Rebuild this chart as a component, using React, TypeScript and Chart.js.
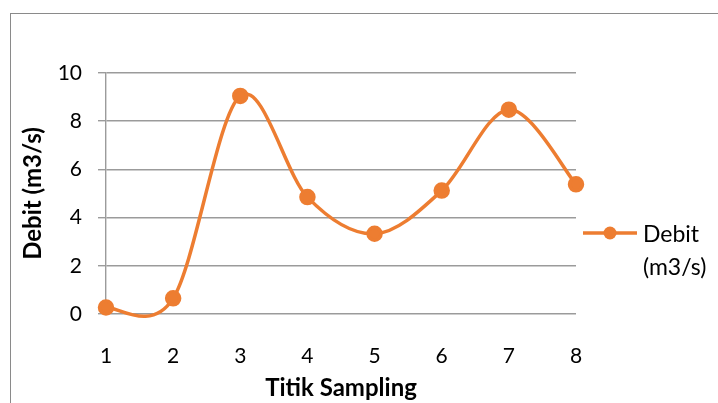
import React, { useEffect, useRef } from "react";
import { Chart, registerables } from "chart.js";

Chart.register(...registerables);

const categories = ["1", "2", "3", "4", "5", "6", "7", "8"];
const debitValues = [0.27, 0.65, 9.05, 4.85, 3.33, 5.12, 8.48, 5.38];
const seriesLabel = ["Debit", "(m3/s)"];
const yTicks = [0, 2, 4, 6, 8, 10];
const xTitle = "Titik Sampling";
const yTitle = "Debit (m3/s)";

const FONT = "Lato, 'Open Sans', sans-serif";
const ORANGE = "#ED7D31";
const GRID = "#9b9b9b";
const SMOOTH = 1 / 6;

const framePlugin = {
  id: "frame",
  beforeDraw(chart: any) {
    const ctx = chart.ctx;
    ctx.save();
    ctx.fillStyle = "#ffffff";
    ctx.fillRect(0, 0, chart.width, chart.height);
    ctx.strokeStyle = "#8a8a8a";
    ctx.lineWidth = 1;
    ctx.strokeRect(10.5, 13.5, chart.width + 50, chart.height + 50);
    ctx.restore();
  },
};

// Excel-like smoothing: uniform Catmull-Rom control points from the
// pixel positions that the chart's scales computed.
const smoothPlugin = {
  id: "excelSmooth",
  beforeDatasetDraw(chart: any, args: any) {
    const meta = chart.getDatasetMeta(args.index);
    const pts = meta.data;
    const line = meta.dataset;
    for (let i = 0; i < pts.length; i++) {
      const p = pts[i];
      const prev = pts[i - 1] || p;
      const next = pts[i + 1] || p;
      const dx = (next.x - prev.x) * SMOOTH;
      const dy = (next.y - prev.y) * SMOOTH;
      p.cp1x = p.x - dx;
      p.cp1y = p.y - dy;
      p.cp2x = p.x + dx;
      p.cp2y = p.y + dy;
    }
    if (line) {
      line._pointsUpdated = true;
      delete line._path;
    }
  },
};

const legendPlugin = {
  id: "customLegend",
  afterDraw(chart: any) {
    const ctx = chart.ctx;
    const ds = chart.data.datasets[0];
    const area = chart.chartArea;
    const lx = area.right + 7;
    const ly = area.top + 160;
    ctx.save();
    ctx.strokeStyle = ds.borderColor;
    ctx.lineWidth = ds.borderWidth;
    ctx.beginPath();
    ctx.moveTo(lx, ly);
    ctx.lineTo(lx + 54, ly);
    ctx.stroke();
    ctx.fillStyle = ds.pointBackgroundColor;
    ctx.beginPath();
    ctx.arc(lx + 27, ly, ds.pointRadius, 0, Math.PI * 2);
    ctx.fill();
    ctx.fillStyle = "#000";
    ctx.font = `23px ${FONT}`;
    ctx.textBaseline = "alphabetic";
    ctx.textAlign = "left";
    const lines = ds.legendLines as string[];
    lines.forEach((t, i) => {
      ctx.fillText(t, lx + 60, ly + 9 + i * 33);
    });
    ctx.restore();
  },
};

export default function App() {
  const ref = useRef<HTMLCanvasElement>(null);

  useEffect(() => {
    if (!ref.current) return;
    const chart = new Chart(ref.current, {
      type: "line",
      data: {
        labels: categories,
        datasets: [
          {
            label: yTitle,
            data: debitValues,
            borderColor: ORANGE,
            backgroundColor: ORANGE,
            pointBackgroundColor: ORANGE,
            pointBorderColor: ORANGE,
            borderWidth: 3.5,
            pointRadius: 6.5,
            pointHoverRadius: 6.5,
            tension: 0.4,
            capBezierPoints: false,
            clip: false,
            legendLines: seriesLabel,
          } as any,
        ],
      },
      options: {
        responsive: false,
        animation: false,
        devicePixelRatio: 1,
        layout: { padding: { left: 0, top: 73, right: 142, bottom: 0 } },
        plugins: {
          legend: { display: false },
          tooltip: { enabled: false },
        },
        scales: {
          x: {
            type: "category",
            offset: false,
            grid: { display: false },
            border: { display: false },
            ticks: {
              color: "#000",
              font: { family: FONT, size: 21 },
              padding: 22,
              maxRotation: 0,
            },
            title: {
              display: true,
              text: xTitle,
              color: "#000",
              font: { family: FONT, size: 24, weight: "bold" },
              padding: { top: 0, bottom: 0 },
            },
            afterFit(scale: any) {
              scale.height = 89;
            },
          },
          y: {
            min: 0,
            max: 10,
            afterBuildTicks(scale: any) {
              scale.ticks = yTicks.map((v) => ({ value: v }));
            },
            grid: {
              color: GRID,
              lineWidth: 1.4,
              tickLength: 8,
              drawTicks: true,
            },
            border: { display: true, color: GRID, width: 1.4 },
            ticks: {
              color: "#000",
              font: { family: FONT, size: 21 },
              padding: 16,
            },
            title: {
              display: true,
              text: yTitle,
              color: "#000",
              font: { family: FONT, size: 24, weight: "bold" },
              padding: { top: 19, bottom: 0 },
            },
            afterFit(scale: any) {
              scale.width = 106;
            },
          },
        },
      },
      plugins: [framePlugin, smoothPlugin, legendPlugin],
    });
    return () => chart.destroy();
  }, []);

  return (
    <div style={{ position: "fixed", left: 0, top: 0, width: 718, height: 403 }}>
      <canvas ref={ref} width={718} height={403} />
    </div>
  );
}
